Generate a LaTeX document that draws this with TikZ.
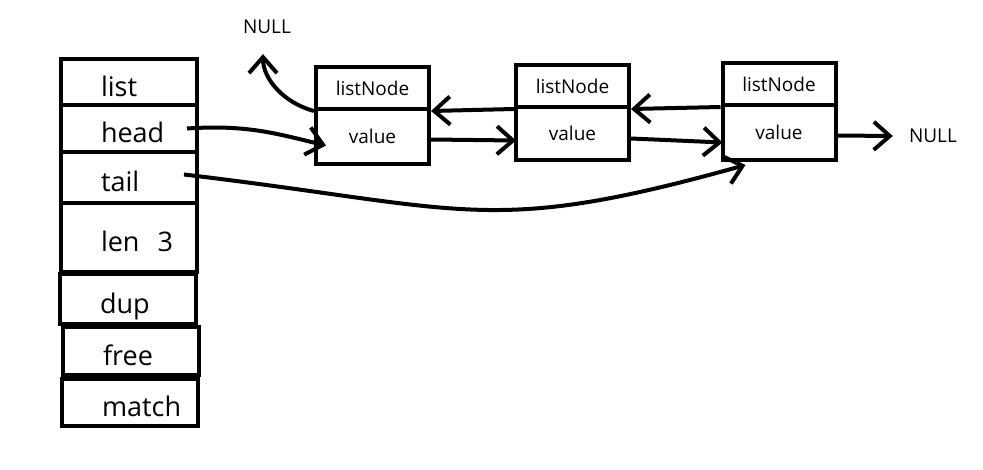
\documentclass[tikz,border=0pt]{standalone}
\usepackage{fontspec}
\setmainfont{Open Sans}
\usepackage{tikz}
\usetikzlibrary{arrows.meta,calc}

\tikzset{
  field/.style={draw, line width=4pt, minimum width=136pt, inner sep=0pt,
    text width=56pt, text height=28pt, text depth=0pt, align=left,
    font=\fontsize{27}{30}\selectfont},
  cellbox/.style={draw, line width=4pt, minimum width=113pt, inner sep=0pt,
    font=\fontsize{19}{22}\selectfont},
  nulltext/.style={inner sep=0pt, font=\fontsize{19}{22}\selectfont},
  link/.style={line width=4pt, -{Straight Barb[length=16pt,width=28pt]}},
}

\begin{document}
\begin{tikzpicture}[x=1pt,y=-1pt]
\useasboundingbox (0,0) rectangle (983,469);

% the list struct
\node[field, minimum height=46pt] (list)  at (129,82)    {list};
\node[field, minimum height=47pt] (head)  at (129,128.5) {head};
\node[field, minimum height=51pt] (tail)  at (129,177.5) {tail};
\node[field, minimum height=69pt] (len)   at (129,237.5) {len~~3};
\node[field, minimum height=50pt] (dup)   at (128,299)   {dup};
\node[field, minimum height=48pt] (free)  at (131,351)   {free};
\node[field, minimum height=47pt] (match) at (130,402.5) {match};

% the three list nodes
\node[cellbox, minimum height=42pt] (n1top) at (372.5,88)    {listNode};
\node[cellbox, minimum height=55pt] (n1val) at (372.5,136.5) {value};
\node[cellbox, minimum height=42pt] (n2top) at (572.5,86)    {listNode};
\node[cellbox, minimum height=53pt] (n2val) at (572.5,133.5) {value};
\node[cellbox, minimum height=42pt] (n3top) at (779,84)      {listNode};
\node[cellbox, minimum height=55pt] (n3val) at (779,132.5)   {value};

\node[nulltext] (nullA) at (267,27)  {NULL};
\node[nulltext] (nullB) at (933,136) {NULL};

% head and tail pointers
\draw[link] ([xshift=-12pt]head.east) .. controls +(60,-4) and +(-50,-12) .. ($(n1val.west)+(12,9)$);
\draw[link] ($(tail.east)+(-15,-3)$) .. controls +(286,34) and +(-258,72) .. ($(n3val.south west)+(25,3)$);

% next
\draw[link] ($(n1val.east)+(0,3)$) -- ($(n2val.west)+(2,7)$);
\draw[link] ($(n2val.east)+(0,5)$) -- ($(n3val.west)+(2,10)$);
\draw[link] ($(n3val.east)+(0,3)$) -- ([xshift=-16pt]nullB.west);

% prev
\draw[link] (n3top.south west) -- (n2top.south east);
\draw[link] (n2top.south west) -- (n1top.south east);
\draw[link] (n1top.south west) .. controls +(-30,-8) and +(0,25) .. ($(nullA.south)+(-4,20)$);
\end{tikzpicture}
\end{document}
